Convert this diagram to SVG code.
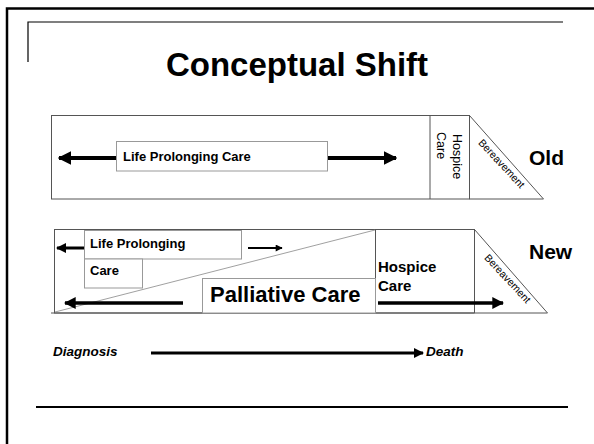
<svg xmlns="http://www.w3.org/2000/svg" width="594" height="444" viewBox="0 0 594 444">
<defs>
<style>
.b{font-family:"Liberation Sans",Arial,sans-serif;font-weight:bold;fill:#000}
.r{font-family:"Liberation Sans",Arial,sans-serif;fill:#000}
.box{fill:#fff;stroke:#555;stroke-width:1}
.lbox{fill:#fff;stroke:#999;stroke-width:1}
.arr{stroke:#000;fill:none}
</style>
<marker id="ah" viewBox="0 0 10 10" refX="9" refY="5" markerWidth="3.4" markerHeight="3.4" orient="auto" markerUnits="strokeWidth">
<path d="M0,0 L10,5 L0,10 z" fill="#000"/>
</marker>
<marker id="ah2" viewBox="0 0 10 10" refX="9" refY="5" markerWidth="4" markerHeight="3.5" orient="auto" markerUnits="strokeWidth">
<path d="M0,0 L10,5 L0,10 z" fill="#000"/>
</marker>
</defs>
<rect width="594" height="444" fill="#fff"/>
<g id="frame">
<path d="M7,444 V8.5 H594" fill="none" stroke="#000" stroke-width="2.5"/>
<path d="M28,62 V22 H563" fill="none" stroke="#000" stroke-width="1.2"/>
<line x1="36" y1="407" x2="568" y2="407" stroke="#000" stroke-width="2"/>
</g>
<text class="b" x="297" y="76" font-size="33" text-anchor="middle">Conceptual Shift</text>

<g id="old-row">
<rect class="box" x="51.5" y="115.5" width="418" height="83.5"/>
<line x1="430" y1="115.5" x2="430" y2="199" stroke="#555"/>
<path d="M469.5,115.5 L543.5,199 L469.5,199" fill="none" stroke="#555"/>
</g>
<g id="old-life">
<rect class="lbox" x="116.5" y="141.5" width="211" height="29.5"/>
<text class="b" x="123" y="161" font-size="13">Life Prolonging Care</text>
</g>
<g id="old-hospice">
<text class="r" font-size="12.5" transform="translate(453,134) rotate(90)">Hospice</text>
<text class="r" font-size="12.5" transform="translate(437,132) rotate(90)">Care</text>
</g>
<g id="old-bereavement">
<text class="r" font-size="10.5" text-anchor="middle" transform="translate(499,166) rotate(47)">Bereavement</text>
</g>
<text class="b" x="529" y="165" font-size="21">Old</text>

<g id="new-row">
<rect class="box" x="54.5" y="229.5" width="420" height="83.5"/>
<line x1="375.5" y1="229.5" x2="375.5" y2="313" stroke="#555"/>
<path d="M474.5,229.5 L547.5,313 L474.5,313" fill="none" stroke="#555"/>
<line x1="51" y1="313" x2="474" y2="313" stroke="#555"/>
<line x1="55" y1="312" x2="375" y2="230" stroke="#888" stroke-width="0.8"/>
</g>
<g id="new-life">
<rect class="lbox" x="84.5" y="230.5" width="157" height="28.5"/>
<rect class="lbox" x="84.5" y="259" width="58" height="29"/>
<text class="b" x="90" y="248" font-size="13">Life Prolonging</text>
<text class="b" x="90" y="275" font-size="13">Care</text>
</g>
<g id="new-palliative">
<rect class="lbox" x="202.5" y="278.5" width="173" height="34.5"/>
<text class="b" x="210" y="302" font-size="22">Palliative Care</text>
</g>
<g id="new-hospice">
<text class="b" x="378" y="272" font-size="15">Hospice</text>
<text class="b" x="378" y="291" font-size="15">Care</text>
</g>
<g id="new-bereavement">
<text class="r" font-size="10.5" text-anchor="middle" transform="translate(505,281) rotate(47)">Bereavement</text>
</g>
<text class="b" x="529" y="259" font-size="21">New</text>

<g id="timeline">
<text class="b" x="53" y="356" font-size="13.5" font-style="italic">Diagnosis</text>
<text class="b" x="426" y="356" font-size="13.5" font-style="italic">Death</text>
</g>

<g id="connectors">
<line class="arr" x1="116" y1="158" x2="59" y2="158" stroke-width="4" marker-end="url(#ah)"/>
<line class="arr" x1="328" y1="158" x2="396" y2="158" stroke-width="4" marker-end="url(#ah)"/>
<line class="arr" x1="84" y1="248" x2="57" y2="248" stroke-width="3" marker-end="url(#ah)"/>
<line class="arr" x1="248" y1="248" x2="282" y2="248" stroke-width="2" marker-end="url(#ah2)"/>
<line class="arr" x1="183" y1="303" x2="65" y2="303" stroke-width="3.5" marker-end="url(#ah)"/>
<line class="arr" x1="378" y1="303" x2="503" y2="303" stroke-width="3.5" marker-end="url(#ah)"/>
<line class="arr" x1="151" y1="353" x2="423" y2="353" stroke-width="3" marker-end="url(#ah)"/>
</g>
</svg>
